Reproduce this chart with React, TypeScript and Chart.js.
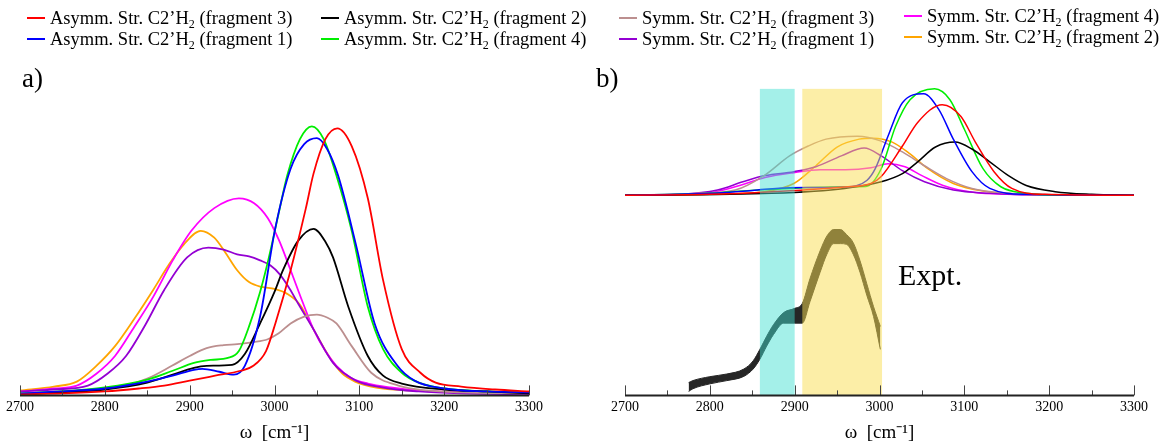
import React, { useEffect, useRef } from "react";
import { Chart, registerables } from "chart.js";

Chart.register(...registerables);

type P = [number, number];

const FONT = "'Liberation Serif', 'Times New Roman', serif";

// ---- axis ----
const X_MIN = 2700;
const X_MAX = 3300;
const X_STEP = 100;
const MINOR_TICKS = [2750, 2850, 2950, 3050, 3150, 3250];
const AXIS_TITLE = "ω  [cm⁻¹]";
const Y_MAX = 3.2;

// ---- series meta ----
const SERIES_KEYS = ["asymF3", "asymF1", "asymF2", "asymF4", "symF3", "symF1", "symF4", "symF2"];
const SERIES_KIND: Record<string, string> = {
  asymF3: "Asymm.", asymF1: "Asymm.", asymF2: "Asymm.", asymF4: "Asymm.",
  symF3: "Symm.", symF1: "Symm.", symF4: "Symm.", symF2: "Symm.",
};
const SERIES_FRAGMENT: Record<string, number> = {
  asymF3: 3, asymF1: 1, asymF2: 2, asymF4: 4, symF3: 3, symF1: 1, symF4: 4, symF2: 2,
};
const SERIES_COLOR: Record<string, string> = {
  asymF3: "#ff0000", asymF1: "#0000ff", asymF2: "#000000", asymF4: "#00ee00",
  symF3: "#bc8f8f", symF1: "#9400d3", symF4: "#ff00ff", symF2: "#ffa500",
};
const LEGEND_COLUMNS = [["asymF3", "asymF1"], ["asymF2", "asymF4"], ["symF3", "symF1"], ["symF4", "symF2"]];

// ---- panel a data (wavenumber, intensity) ----
const A_ASYM_F3: P[] = [[2700,0.01],[2750,0.02],[2800,0.04],[2840,0.07],[2870,0.1],[2900,0.15],[2930,0.2],[2960,0.25],[2975,0.3],[2990,0.45],[3001,0.73],[3019,1.27],[3037,1.9],[3046,2.25],[3060,2.6],[3074,2.71],[3091,2.53],[3110,2.0],[3128,1.17],[3150,0.47],[3172,0.23],[3190,0.13],[3220,0.09],[3260,0.06],[3300,0.04]];
const A_ASYM_F1: P[] = [[2700,0.02],[2750,0.04],[2800,0.07],[2850,0.14],[2880,0.2],[2905,0.26],[2915,0.27],[2935,0.24],[2952,0.21],[2965,0.3],[2983,0.8],[3001,1.7],[3019,2.3],[3035,2.55],[3050,2.61],[3062,2.5],[3075,2.23],[3096,1.53],[3118,0.73],[3145,0.3],[3165,0.15],[3200,0.07],[3250,0.04],[3300,0.03]];
const A_ASYM_F2: P[] = [[2700,0.01],[2750,0.03],[2800,0.06],[2850,0.13],[2880,0.21],[2905,0.28],[2920,0.3],[2950,0.31],[2965,0.42],[2983,0.73],[3000,1.05],[3010,1.27],[3028,1.57],[3046,1.69],[3060,1.56],[3069,1.4],[3087,0.9],[3110,0.4],[3128,0.2],[3150,0.12],[3200,0.06],[3250,0.04],[3300,0.02]];
const A_ASYM_F4: P[] = [[2700,0.02],[2750,0.04],[2800,0.08],[2850,0.16],[2880,0.25],[2905,0.33],[2925,0.36],[2945,0.38],[2958,0.45],[2970,0.7],[2983,1.05],[2992,1.35],[3005,1.85],[3015,2.23],[3030,2.6],[3044,2.73],[3058,2.6],[3073,2.23],[3091,1.67],[3110,0.9],[3128,0.47],[3150,0.23],[3170,0.13],[3200,0.07],[3250,0.04],[3300,0.03]];
const A_SYM_F3: P[] = [[2700,0.02],[2750,0.04],[2800,0.07],[2825,0.1],[2850,0.17],[2879,0.3],[2900,0.4],[2920,0.48],[2940,0.51],[2956,0.52],[2975,0.54],[2992,0.57],[3005,0.63],[3019,0.73],[3035,0.8],[3050,0.82],[3062,0.79],[3073,0.73],[3091,0.5],[3114,0.23],[3146,0.1],[3180,0.05],[3220,0.03],[3300,0.02]];
const A_SYM_F1: P[] = [[2700,0.04],[2740,0.06],[2780,0.1],[2803,0.22],[2825,0.4],[2848,0.72],[2870,1.07],[2897,1.4],[2922,1.5],[2940,1.48],[2956,1.43],[2970,1.41],[2983,1.37],[2995,1.32],[3006,1.23],[3018,1.08],[3028,0.93],[3046,0.67],[3069,0.33],[3096,0.15],[3128,0.08],[3170,0.04],[3220,0.02],[3300,0.01]];
const A_SYM_F4: P[] = [[2700,0.04],[2740,0.07],[2767,0.1],[2790,0.22],[2812,0.4],[2835,0.7],[2857,1.0],[2880,1.37],[2902,1.67],[2929,1.9],[2958,2.0],[2976,1.95],[2992,1.8],[3005,1.58],[3019,1.27],[3033,0.95],[3046,0.67],[3060,0.45],[3073,0.3],[3090,0.18],[3110,0.12],[3137,0.08],[3170,0.05],[3220,0.03],[3300,0.02]];
const A_SYM_F2: P[] = [[2700,0.05],[2740,0.09],[2767,0.14],[2790,0.3],[2812,0.5],[2835,0.78],[2857,1.07],[2875,1.32],[2893,1.53],[2913,1.67],[2929,1.6],[2942,1.45],[2956,1.27],[2970,1.15],[2985,1.1],[3000,1.08],[3015,1.03],[3030,0.92],[3046,0.67],[3064,0.4],[3080,0.22],[3095,0.14],[3120,0.08],[3160,0.05],[3220,0.03],[3300,0.02]];

// ---- panel b data (intensity above the stacked baseline) ----
const B_BASELINE = 2.03;
const B_ASYM_F3: P[] = [[2700,0],[2800,0.01],[2873,0.037],[2959,0.085],[2990,0.12],[3002,0.19],[3027,0.5],[3045,0.74],[3074,0.92],[3096,0.8],[3113,0.54],[3135,0.24],[3156,0.07],[3195,0.01],[3300,0]];
const B_ASYM_F1: P[] = [[2700,0],[2800,0.02],[2850,0.05],[2894,0.077],[2959,0.085],[2985,0.15],[2995,0.27],[3010,0.6],[3027,0.94],[3052,1.03],[3070,0.87],[3087,0.57],[3109,0.24],[3130,0.07],[3173,0.01],[3300,0]];
const B_ASYM_F2: P[] = [[2700,0],[2873,0.02],[2959,0.07],[3002,0.137],[3027,0.22],[3045,0.34],[3066,0.49],[3089,0.54],[3109,0.47],[3130,0.34],[3152,0.2],[3173,0.1],[3207,0.037],[3250,0.01],[3300,0]];
const B_ASYM_F4: P[] = [[2700,0],[2800,0.02],[2830,0.04],[2894,0.07],[2959,0.087],[2984,0.09],[3002,0.27],[3019,0.7],[3036,0.97],[3065,1.08],[3083,0.97],[3100,0.67],[3122,0.27],[3143,0.087],[3173,0.02],[3220,0],[3300,0]];
const B_SYM_F3: P[] = [[2700,0],[2787,0.02],[2830,0.053],[2864,0.2],[2894,0.4],[2916,0.5],[2937,0.57],[2974,0.6],[3002,0.55],[3027,0.44],[3053,0.3],[3079,0.17],[3109,0.07],[3152,0.02],[3200,0],[3300,0]];
const B_SYM_F1: P[] = [[2700,0],[2766,0.01],[2809,0.053],[2839,0.137],[2865,0.2],[2899,0.24],[2925,0.29],[2955,0.4],[2982,0.48],[3002,0.4],[3027,0.25],[3053,0.137],[3087,0.053],[3130,0.02],[3200,0],[3300,0]];
const B_SYM_F4: P[] = [[2700,0],[2770,0.01],[2809,0.04],[2839,0.11],[2865,0.18],[2899,0.23],[2930,0.26],[2960,0.26],[2990,0.28],[3010,0.32],[3030,0.29],[3050,0.2],[3075,0.1],[3110,0.03],[3150,0.01],[3300,0]];
const B_SYM_F2: P[] = [[2700,0],[2800,0.01],[2864,0.037],[2899,0.12],[2925,0.3],[2950,0.49],[2976,0.57],[2992,0.58],[3015,0.54],[3036,0.42],[3057,0.27],[3087,0.12],[3122,0.043],[3173,0.01],[3300,0]];

// ---- experimental band (upper/lower edges) ----
const EXP_X = [2775,2780,2800,2820,2840,2851,2859,2867,2875,2887,2900,2909,2918,2930,2938,2946,2954,2961,2969,2977,2985,2993,3001];
const EXP_UPPER = [0.13,0.15,0.19,0.217,0.267,0.35,0.467,0.6,0.717,0.84,0.883,0.933,1.183,1.467,1.617,1.683,1.683,1.633,1.55,1.367,1.133,0.9,0.7];
const EXP_LOWER = [0.04,0.067,0.117,0.15,0.193,0.267,0.367,0.5,0.617,0.733,0.733,0.733,0.95,1.25,1.433,1.54,1.54,1.533,1.433,1.25,1.017,0.8,0.467];
const EXP_LABEL = "Expt.";

// ---- highlighted ranges in panel b ----
const BAND_RANGES: [number, number][] = [[2859, 2900], [2909, 3003]];
const BAND_COLORS = ["rgba(64,224,208,0.48)", "rgba(250,222,80,0.5)"];
const BAND_TOP = 3.11;

const A_DATA: Record<string, P[]> = {
  asymF3: A_ASYM_F3, asymF1: A_ASYM_F1, asymF2: A_ASYM_F2, asymF4: A_ASYM_F4,
  symF3: A_SYM_F3, symF1: A_SYM_F1, symF4: A_SYM_F4, symF2: A_SYM_F2,
};
const B_DATA: Record<string, P[]> = {
  asymF3: B_ASYM_F3, asymF1: B_ASYM_F1, asymF2: B_ASYM_F2, asymF4: B_ASYM_F4,
  symF3: B_SYM_F3, symF1: B_SYM_F1, symF4: B_SYM_F4, symF2: B_SYM_F2,
};

const axisPlugin = {
  id: "inwardTicks",
  afterDraw(chart: any) {
    const { ctx, chartArea } = chart;
    const xs = chart.scales.x;
    const yb = chartArea.bottom;
    ctx.save();
    ctx.strokeStyle = "#444";
    ctx.lineWidth = 1;
    ctx.beginPath();
    xs.ticks.forEach((t: any) => {
      const px = Math.round(xs.getPixelForValue(t.value)) + 0.5;
      ctx.moveTo(px, yb);
      ctx.lineTo(px, yb - 10);
    });
    MINOR_TICKS.forEach((v) => {
      const px = Math.round(xs.getPixelForValue(v)) + 0.5;
      ctx.moveTo(px, yb);
      ctx.lineTo(px, yb - 5);
    });
    ctx.stroke();
    ctx.strokeStyle = "#222";
    ctx.lineWidth = 2;
    ctx.beginPath();
    ctx.moveTo(xs.getPixelForValue(X_MIN), yb);
    ctx.lineTo(xs.getPixelForValue(X_MAX), yb);
    ctx.stroke();
    ctx.restore();
  },
};

const bandPlugin = {
  id: "bands",
  afterDatasetsDraw(chart: any) {
    const { ctx, chartArea } = chart;
    const xs = chart.scales.x;
    const ys = chart.scales.y;
    ctx.save();
    BAND_RANGES.forEach((r, i) => {
      const x0 = xs.getPixelForValue(r[0]);
      const x1 = xs.getPixelForValue(r[1]);
      const y0 = ys.getPixelForValue(BAND_TOP);
      ctx.fillStyle = BAND_COLORS[i];
      ctx.fillRect(x0, y0, x1 - x0, chartArea.bottom - y0);
    });
    ctx.restore();
  },
};

function lineDataset(key: string, pts: P[], offset: number, width: number) {
  return {
    label: key,
    data: pts.map(([x, y]) => ({ x, y: y + offset })),
    borderColor: SERIES_COLOR[key],
    borderWidth: width,
    pointRadius: 0,
    fill: false,
    cubicInterpolationMode: "monotone" as const,
  };
}

function makeOptions(padLeft: number, padRight: number) {
  return {
    responsive: false,
    maintainAspectRatio: false,
    animation: false as const,
    devicePixelRatio: 1,
    layout: { padding: { left: padLeft, right: padRight, top: 80, bottom: 0 } },
    plugins: { legend: { display: false }, tooltip: { enabled: false }, title: { display: false } },
    scales: {
      x: {
        type: "linear" as const,
        min: X_MIN,
        max: X_MAX,
        grid: { display: false, drawTicks: false },
        border: { display: false },
        ticks: {
          stepSize: X_STEP,
          padding: 4,
          color: "#000",
          autoSkip: false,
          maxRotation: 0,
          font: { family: FONT, size: 14 },
          callback: (v: any) => String(v),
        },
        title: {
          display: true,
          text: AXIS_TITLE,
          color: "#000",
          font: { family: FONT, size: 19 },
          padding: { top: 1, bottom: 1 },
        },
      },
      y: { display: false, min: 0, max: Y_MAX },
    },
  };
}

function PanelA() {
  const ref = useRef<HTMLCanvasElement>(null);
  useEffect(() => {
    const datasets = SERIES_KEYS.map((k) => lineDataset(k, A_DATA[k], 0, 1.8));
    const chart = new Chart(ref.current as HTMLCanvasElement, {
      type: "line",
      data: { datasets } as any,
      options: makeOptions(20, 31) as any,
      plugins: [axisPlugin],
    });
    return () => chart.destroy();
  }, []);
  return <canvas ref={ref} width={560} height={445} style={{ position: "absolute", left: 0, top: 0 }} />;
}

function PanelB() {
  const ref = useRef<HTMLCanvasElement>(null);
  useEffect(() => {
    const theory = SERIES_KEYS.map((k) => lineDataset(k, B_DATA[k], B_BASELINE, 1.5));
    const upper = {
      label: "expt-upper",
      data: EXP_X.map((x, i) => ({ x, y: EXP_UPPER[i] })),
      borderColor: "#262626",
      borderWidth: 1,
      backgroundColor: "#262626",
      pointRadius: 0,
      fill: "+1",
      cubicInterpolationMode: "monotone" as const,
    };
    const lower = {
      label: "expt-lower",
      data: EXP_X.map((x, i) => ({ x, y: EXP_LOWER[i] })),
      borderColor: "#262626",
      borderWidth: 1,
      pointRadius: 0,
      fill: false,
      cubicInterpolationMode: "monotone" as const,
    };
    const chart = new Chart(ref.current as HTMLCanvasElement, {
      type: "line",
      data: { datasets: [...theory, upper, lower] } as any,
      options: makeOptions(45, 26) as any,
      plugins: [bandPlugin, axisPlugin],
    });
    return () => chart.destroy();
  }, []);
  return <canvas ref={ref} width={580} height={445} style={{ position: "absolute", left: 580, top: 0 }} />;
}

const LEGEND_COL_X = [27, 321, 619, 904];
const LEGEND_COL_DY = [0, 0, 0, -2];
const LEGEND_ROW_Y = [18, 39];

function Legend() {
  return (
    <>
      {LEGEND_COLUMNS.map((col, ci) =>
        col.map((key, ri) => (
          <div
            key={key}
            style={{
              position: "absolute",
              left: LEGEND_COL_X[ci],
              top: LEGEND_ROW_Y[ri] + LEGEND_COL_DY[ci] - 10,
              height: 20,
              display: "flex",
              alignItems: "center",
              whiteSpace: "nowrap",
              fontSize: 18.5,
              lineHeight: "20px",
              color: "#000",
            }}
          >
            <span style={{ display: "inline-block", width: 18, height: 2, background: SERIES_COLOR[key], marginRight: 5 }} />
            <span>
              {SERIES_KIND[key]} Str. C2’H<sub style={{ fontSize: 12, verticalAlign: -4, lineHeight: 0 }}>2</sub> (fragment {SERIES_FRAGMENT[key]})
            </span>
          </div>
        ))
      )}
    </>
  );
}

export default function App() {
  return (
    <div
      style={{
        position: "absolute",
        left: 0,
        top: 0,
        width: 1160,
        height: 445,
        background: "#fff",
        fontFamily: FONT,
        overflow: "hidden",
      }}
    >
      <PanelA />
      <PanelB />
      <Legend />
      <div style={{ position: "absolute", left: 22, top: 65, fontSize: 27, lineHeight: "27px" }}>a)</div>
      <div style={{ position: "absolute", left: 596, top: 65, fontSize: 27, lineHeight: "27px" }}>b)</div>
      <div style={{ position: "absolute", left: 898, top: 260, fontSize: 30, lineHeight: "30px" }}>{EXP_LABEL}</div>
    </div>
  );
}
